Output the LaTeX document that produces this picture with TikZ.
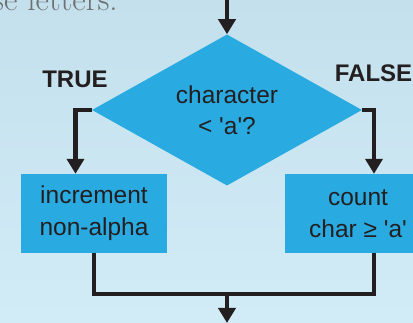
\documentclass[tikz,border=0pt]{standalone}
\usepackage{fontspec}
\newfontfamily\arial{Liberation Sans}
\usetikzlibrary{shapes.geometric,arrows.meta}
\definecolor{bgtop}{HTML}{C3E0EC}
\definecolor{bgbot}{HTML}{D2ECF7}
\definecolor{flowblue}{HTML}{29ABE2}
\definecolor{ink}{HTML}{231F20}
\definecolor{prose}{HTML}{6E6F71}
\tikzset{
  decision/.style={diamond, fill=flowblue, minimum width=270pt, minimum height=143pt,
    inner sep=0pt, align=center, text=ink, font=\arial\fontsize{24.5}{31}\selectfont},
  action/.style={rectangle, fill=flowblue, minimum width=146pt, minimum height=79pt,
    inner sep=0pt, align=center, text=ink, font=\arial\fontsize{24.5}{32}\selectfont},
  branch/.style={text=ink, font=\arial\bfseries\fontsize{24}{28}\selectfont},
  flow/.style={draw=ink, line width=4.4pt},
  flowarrow/.style={flow, -{Triangle[length=15pt,width=17pt]}},
}
\begin{document}
\begin{tikzpicture}[x=1pt,y=-1pt]
  \useasboundingbox (0,0) rectangle (413,323);
  \fill[top color=bgtop, bottom color=bgbot] (0,0) rectangle (413,323);
  \clip (0,0) rectangle (413,323);

  % tail of the preceding paragraph
  \node[anchor=base west, inner sep=0pt, text=prose, font=\fontsize{33}{38}\selectfont]
    (prosetail) at (-8,11) {se letters.};

  % decision and the two actions
  \node[decision] (test) at (227,110) {character\\< \textquotesingle a\textquotesingle?};
  \node[action] (nonalpha) at (94,213.5) {increment\\non-alpha};
  \node[action] (countge) at (358,213.5) {count\\char ≥ \textquotesingle a\textquotesingle};

  \node[branch] (truelbl) at (75,79) {TRUE};
  \node[branch] (falselbl) at (373.5,73) {FALSE};

  % connectors
  \coordinate (entry) at (227,-2);
  \coordinate (join) at (227,294);
  \coordinate (exit) at (227,323);
  \draw[flowarrow] (entry) -- (test.north);
  \draw[flowarrow] (test.west) -| ([xshift=-18.5pt]nonalpha.north);
  \draw[flowarrow] (test.east) -| ([xshift=16pt]countge.north);
  \draw[flow] (nonalpha.south) |- (join) -| ([xshift=16pt]countge.south);
  \draw[flowarrow] (join) -- (exit);
\end{tikzpicture}
\end{document}
